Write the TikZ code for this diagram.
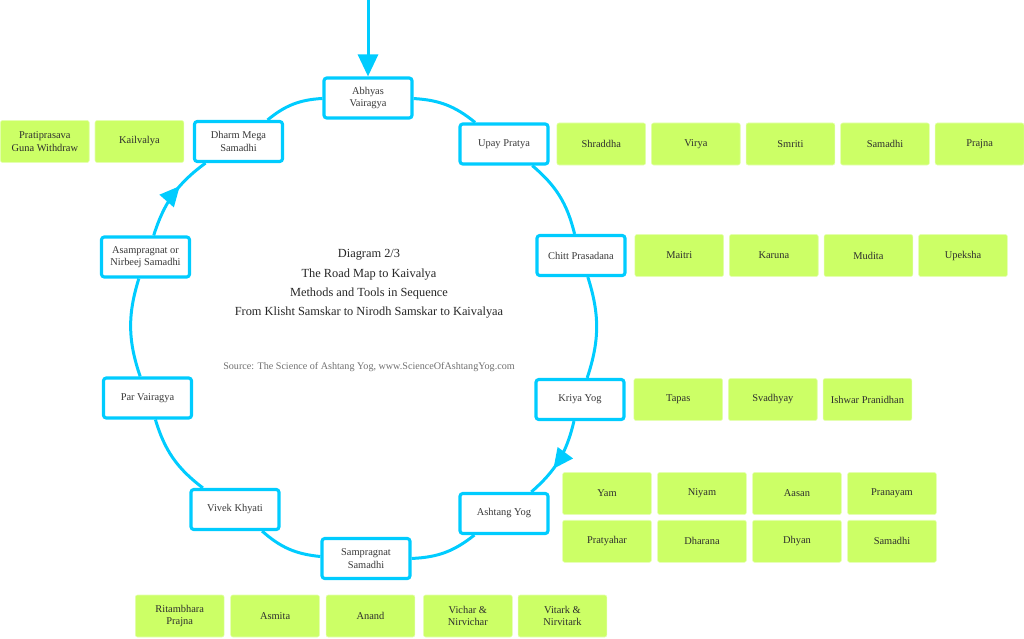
\documentclass[tikz,border=0pt]{standalone}
\usepackage{fontspec}
\setmainfont{Liberation Serif}
\usetikzlibrary{arrows.meta,positioning,decorations.markings}
\definecolor{ringblue}{RGB}{0,204,255}
\definecolor{toolgreen}{RGB}{204,255,102}
\definecolor{tooledge}{RGB}{228,255,176}
\definecolor{inktext}{RGB}{56,56,56}
\definecolor{sourcegray}{RGB}{112,112,112}

\begin{document}
\begin{tikzpicture}[x=0.025cm,y=-0.025cm,
  every node/.style={align=center,font=\fontsize{7.4}{8.8}\selectfont,text=inktext},
  stage/.style={draw=ringblue,line width=0.078cm,rounded corners=2pt,fill=white,minimum width=2.2cm,minimum height=1cm},
  tool/.style={draw=tooledge,line width=0.4pt,fill=toolgreen,rounded corners=1.5pt,minimum width=2.22cm,minimum height=1.05cm,text=black!82},
  ring/.style={draw=ringblue,line width=0.075cm},
  midarrow/.style={postaction={decorate,decoration={markings,mark=at position #1 with {\arrow{Triangle[length=0.5cm,width=0.46cm]}}}}}]
  \useasboundingbox (0,0) rectangle (1024,638);

  \node[stage] (abhyas) at (368,98) {Abhyas\\Vairagya};
  \node[stage] (upay) at (504,144) {Upay Pratya};
  \node[stage] (chitt) at (581,255.5) {Chitt Prasadana};
  \node[stage] (kriya) at (580,399.5) {Kriya Yog};
  \node[stage] (ashtang) at (504,513.5) {Ashtang Yog};
  \node[stage] (sampragnat) at (366,558.5) {Sampragnat\\Samadhi};
  \node[stage] (vivek) at (235,509.5) {Vivek Khyati};
  \node[stage] (par) at (147.5,398) {Par Vairagya};
  \node[stage] (asam) at (145.5,257) {Asampragnat or\\Nirbeej Samadhi};
  \node[stage] (dharm) at (238.5,141.5) {Dharm Mega\\Samadhi};

  \coordinate (entry) at (368,0);
  \draw[ring,-{Triangle[length=0.55cm,width=0.5cm]}] (entry) -- (abhyas);
  \draw[ring] (abhyas) to[bend left=18] (upay);
  \draw[ring] (upay) to[bend left=18] (chitt);
  \draw[ring] (chitt) to[bend left=18] (kriya);
  \draw[ring,midarrow=0.62] (kriya) to[bend left=18] (ashtang);
  \draw[ring] (ashtang) to[bend left=18] (sampragnat);
  \draw[ring] (sampragnat) to[bend left=18] (vivek);
  \draw[ring] (vivek) to[bend left=18] (par);
  \draw[ring] (par) to[bend left=18] (asam);
  \draw[ring,midarrow=0.62] (asam) to[bend left=18] (dharm);
  \draw[ring] (dharm) to[bend left=18] (abhyas);

  \node[tool,right=0.175cm of upay] (shraddha) {Shraddha};
  \node[tool,right=0.13cm of shraddha] (virya) {Virya};
  \node[tool,right=0.13cm of virya] (smriti) {Smriti};
  \node[tool,right=0.13cm of smriti] (samadhiup) {Samadhi};
  \node[tool,right=0.13cm of samadhiup] (prajna) {Prajna};

  \node[tool,right=0.2cm of chitt] (maitri) {Maitri};
  \node[tool,right=0.13cm of maitri] (karuna) {Karuna};
  \node[tool,right=0.13cm of karuna] (mudita) {Mudita};
  \node[tool,right=0.13cm of mudita] (upeksha) {Upeksha};

  \node[tool,right=0.2cm of kriya] (tapas) {Tapas};
  \node[tool,right=0.13cm of tapas] (svadhyay) {Svadhyay};
  \node[tool,right=0.13cm of svadhyay] (ishwar) {Ishwar Pranidhan};

  \node[tool] (yam) at (607,493.5) {Yam};
  \node[tool,right=0.14cm of yam] (niyam) {Niyam};
  \node[tool,right=0.14cm of niyam] (aasan) {Aasan};
  \node[tool,right=0.14cm of aasan] (pranayam) {Pranayam};
  \node[tool,below=0.13cm of yam] (pratyahar) {Pratyahar};
  \node[tool,below=0.13cm of niyam] (dharana) {Dharana};
  \node[tool,below=0.13cm of aasan] (dhyan) {Dhyan};
  \node[tool,below=0.13cm of pranayam] (samadhiash) {Samadhi};

  \node[tool] (anand) at (370.5,616) {Anand};
  \node[tool,left=0.15cm of anand] (asmita) {Asmita};
  \node[tool,left=0.15cm of asmita] (ritambhara) {Ritambhara\\Prajna};
  \node[tool,right=0.2cm of anand] (vichar) {Vichar \&\\Nirvichar};
  \node[tool,right=0.13cm of vichar] (vitark) {Vitark \&\\Nirvitark};

  \node[tool,left=0.22cm of dharm] (kailvalya) {Kailvalya};
  \node[tool,left=0.13cm of kailvalya] (pratiprasava) {Pratiprasava\\Guna Withdraw};

  \node[font=\fontsize{8.8}{13.7}\selectfont,text=black!85] (title) at (369,284)
    {Diagram 2/3\\The Road Map to Kaivalya\\Methods and Tools in Sequence\\From Klisht Samskar to Nirodh Samskar to Kaivalyaa};
  \node[font=\fontsize{7.2}{9}\selectfont,text=sourcegray] (source) at (369,367)
    {Source: The Science of Ashtang Yog, www.ScienceOfAshtangYog.com};
\end{tikzpicture}
\end{document}
